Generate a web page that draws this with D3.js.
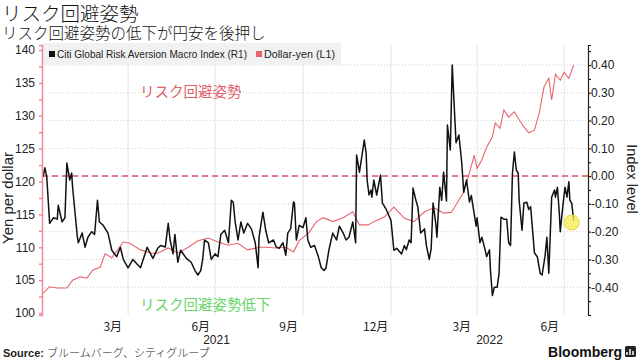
<!DOCTYPE html>
<html><head><meta charset="utf-8">
<script src="https://cdn.jsdelivr.net/npm/d3@7"></script>
<style>body{margin:0;background:#fff}svg{display:block}</style>
</head><body>
<svg id="c" width="640" height="360"></svg>
<script>
// ---- data ----
const yenDates = ["2021-01-02","2021-01-09","2021-01-17","2021-01-27","2021-02-02","2021-02-10","2021-02-17","2021-02-23","2021-03-03","2021-03-08","2021-03-15","2021-03-27","2021-04-03","2021-04-14","2021-04-26","2021-05-02","2021-05-13","2021-05-23","2021-06-03","2021-06-13","2021-06-24","2021-07-04","2021-07-15","2021-07-25","2021-08-04","2021-08-17","2021-08-23","2021-09-03","2021-09-13","2021-09-21","2021-09-27","2021-10-07","2021-10-15","2021-10-22","2021-11-01","2021-11-12","2021-11-22","2021-11-29","2021-12-08","2021-12-14","2021-12-25","2022-01-04","2022-01-15","2022-01-25","2022-02-05","2022-02-15","2022-02-25","2022-03-05","2022-03-11","2022-03-18","2022-03-24","2022-03-29","2022-04-01","2022-04-06","2022-04-11","2022-04-17","2022-04-20","2022-04-25","2022-04-29","2022-05-04","2022-05-10","2022-05-15","2022-05-20","2022-05-25","2022-05-31","2022-06-05","2022-06-10","2022-06-15","2022-06-18","2022-06-22","2022-06-27","2022-07-01","2022-07-06","2022-07-11"];
const yenValues = [103.0,104.0,103.8,103.8,105.0,105.5,105.3,106.5,107.0,109.0,108.4,110.8,110.6,109.6,109.1,109.1,109.9,109.1,110.0,111.0,111.4,110.8,110.3,110.6,109.6,110.0,110.0,109.9,110.0,109.3,111.0,112.2,113.9,114.5,113.9,114.5,115.4,113.4,113.4,113.9,114.6,116.1,114.4,113.9,115.4,116.0,115.2,115.3,116.7,118.4,121.3,124.0,122.0,123.3,125.2,126.8,128.9,128.1,130.9,129.8,130.6,129.4,128.3,127.4,127.8,130.4,134.4,135.7,132.4,136.3,135.4,136.6,135.7,137.7];

const riskDates = ["2021-01-02","2021-01-04","2021-01-06","2021-01-09","2021-01-13","2021-01-17","2021-01-18","2021-01-22","2021-01-25","2021-01-27","2021-01-30","2021-02-01","2021-02-02","2021-02-07","2021-02-08","2021-02-12","2021-02-15","2021-02-18","2021-02-22","2021-02-25","2021-02-28","2021-03-02","2021-03-06","2021-03-11","2021-03-15","2021-03-20","2021-03-24","2021-03-27","2021-04-01","2021-04-06","2021-04-14","2021-04-21","2021-04-26","2021-04-27","2021-05-02","2021-05-05","2021-05-10","2021-05-13","2021-05-15","2021-05-18","2021-05-20","2021-05-23","2021-05-26","2021-06-01","2021-06-06","2021-06-10","2021-06-13","2021-06-16","2021-06-18","2021-06-20","2021-06-24","2021-06-27","2021-07-01","2021-07-04","2021-07-07","2021-07-11","2021-07-15","2021-07-18","2021-07-20","2021-07-22","2021-07-25","2021-07-28","2021-07-31","2021-08-04","2021-08-08","2021-08-12","2021-08-15","2021-08-16","2021-08-20","2021-08-23","2021-08-26","2021-08-31","2021-09-03","2021-09-06","2021-09-10","2021-09-13","2021-09-15","2021-09-18","2021-09-21","2021-09-22","2021-09-24","2021-09-27","2021-10-01","2021-10-04","2021-10-06","2021-10-09","2021-10-13","2021-10-17","2021-10-20","2021-10-23","2021-10-25","2021-10-28","2021-11-01","2021-11-05","2021-11-08","2021-11-12","2021-11-15","2021-11-18","2021-11-22","2021-11-25","2021-11-26","2021-11-29","2021-12-02","2021-12-04","2021-12-06","2021-12-07","2021-12-09","2021-12-11","2021-12-12","2021-12-14","2021-12-17","2021-12-21","2021-12-23","2021-12-27","2022-01-01","2022-01-04","2022-01-07","2022-01-12","2022-01-15","2022-01-17","2022-01-20","2022-01-22","2022-01-24","2022-01-27","2022-01-29","2022-02-01","2022-02-05","2022-02-07","2022-02-10","2022-02-12","2022-02-14","2022-02-17","2022-02-18","2022-02-21","2022-02-23","2022-02-25","2022-02-28","2022-03-01","2022-03-04","2022-03-06","2022-03-10","2022-03-13","2022-03-16","2022-03-18","2022-03-21","2022-03-24","2022-03-26","2022-03-31","2022-04-01","2022-04-04","2022-04-06","2022-04-09","2022-04-11","2022-04-14","2022-04-15","2022-04-17","2022-04-19","2022-04-22","2022-04-24","2022-04-26","2022-04-29","2022-05-02","2022-05-04","2022-05-06","2022-05-08","2022-05-10","2022-05-12","2022-05-14","2022-05-15","2022-05-18","2022-05-20","2022-05-23","2022-05-25","2022-05-27","2022-05-31","2022-06-03","2022-06-06","2022-06-08","2022-06-11","2022-06-13","2022-06-15","2022-06-18","2022-06-21","2022-06-22","2022-06-24","2022-06-26","2022-06-27","2022-06-30","2022-07-02","2022-07-04","2022-07-06","2022-07-07","2022-07-09","2022-07-11"];
const riskValues = [-0.004,0.03,-0.004,-0.17,-0.15,-0.155,-0.105,-0.165,-0.15,0.047,-0.014,0.011,-0.04,-0.22,-0.24,-0.205,-0.256,-0.22,-0.2,-0.21,-0.087,-0.165,-0.177,-0.205,-0.267,-0.29,-0.256,-0.30,-0.33,-0.30,-0.33,-0.256,-0.29,-0.296,-0.26,-0.25,-0.255,-0.17,-0.23,-0.28,-0.21,-0.31,-0.267,-0.296,-0.31,-0.34,-0.356,-0.34,-0.30,-0.23,-0.24,-0.30,-0.28,-0.29,-0.21,-0.195,-0.24,-0.087,-0.094,-0.165,-0.23,-0.165,-0.205,-0.17,-0.19,-0.24,-0.33,-0.22,-0.13,-0.195,-0.24,-0.23,-0.255,-0.26,-0.24,-0.285,-0.205,-0.19,-0.093,-0.097,-0.23,-0.177,-0.185,-0.15,-0.23,-0.256,-0.25,-0.29,-0.33,-0.34,-0.33,-0.267,-0.205,-0.23,-0.18,-0.205,-0.23,-0.22,-0.165,-0.24,0.076,0.014,0.083,0.13,0.083,-0.014,-0.068,-0.05,-0.076,-0.014,-0.068,0.004,-0.097,-0.12,-0.16,-0.267,-0.26,-0.28,-0.25,-0.265,-0.23,-0.24,-0.043,-0.087,-0.11,-0.205,-0.19,-0.25,-0.30,-0.26,-0.097,-0.177,-0.22,-0.04,-0.087,0.014,-0.09,0.184,0.094,0.40,0.12,0.148,0.047,-0.058,-0.014,-0.093,-0.07,-0.18,-0.15,-0.24,-0.22,-0.26,-0.29,-0.265,-0.34,-0.43,-0.40,-0.40,-0.35,-0.148,-0.155,-0.155,-0.24,-0.25,0.011,0.087,0.022,0.011,-0.087,-0.195,-0.097,-0.094,-0.12,-0.11,-0.277,-0.29,-0.35,-0.356,-0.29,-0.22,-0.35,-0.076,-0.05,-0.076,-0.04,-0.133,-0.2,-0.097,-0.04,-0.076,-0.02,-0.087,-0.097,-0.16];

const leftTicks = [100,105,110,115,120,125,130,135,140];
const rightTicks = [-0.4,-0.3,-0.2,-0.1,0,0.1,0.2,0.3,0.4];
const monthLabelDates = ["2021-03-16","2021-06-16","2021-09-16","2021-12-16","2022-03-16","2022-06-16"];
const monthLabels = ["3月","6月","9月","12月","3月","6月"];
const gridDates = ["2021-04-01","2021-07-01","2021-10-01","2022-01-01","2022-04-01","2022-07-01"];
const yearLabels = ["2021","2022"];
const yearSpans = [["2021-01-01","2022-01-01"],["2022-01-01","2022-07-26"]];
const seriesNames = ["Citi Global Risk Aversion Macro Index (R1)","Dollar-yen (L1)"];

// ---- layout ----
const L=42, R=588, T=45, B=315;
const svg = d3.select("#c");
const parse = d3.utcParse("%Y-%m-%d");
const jp = "'Noto Sans CJK JP', sans-serif";
const lat = "'Liberation Sans', Arial, sans-serif";
const RED="#e8646c", AXRED="#f08a94";

const x = d3.scaleUtc().domain([parse("2021-01-01"), parse("2022-07-26")]).range([L,R]);
const yL = d3.scaleLinear().domain([99.7,140.76]).range([B,T]);
const yR = d3.scaleLinear().domain([-0.5,0.472]).range([B,T]);

// grid
svg.append("g").selectAll("line").data(gridDates).join("line")
  .attr("x1",d=>x(parse(d))).attr("x2",d=>x(parse(d))).attr("y1",T).attr("y2",B)
  .attr("stroke","#e4e4e4").attr("stroke-width",1);
svg.append("g").selectAll("line").data(rightTicks).join("line")
  .attr("x1",L).attr("x2",R).attr("y1",d=>yR(d)).attr("y2",d=>yR(d))
  .attr("stroke","#cfcfcf").attr("stroke-dasharray","1,2").attr("stroke-width",1);

// legend box
svg.append("rect").attr("x",L+1).attr("y",T-2).attr("width",298).attr("height",22).attr("fill","#f1f1f1");
const lg = svg.append("g").attr("font-family",lat).attr("font-size",11).attr("fill","#222");
lg.append("rect").attr("x",49).attr("y",51).attr("width",6).attr("height",6).attr("fill","#111");
lg.append("text").attr("x",57).attr("y",58).text(seriesNames[0]).attr("textLength",190).attr("lengthAdjust","spacingAndGlyphs");
lg.append("rect").attr("x",256).attr("y",51).attr("width",6).attr("height",6).attr("fill",RED);
lg.append("text").attr("x",264).attr("y",58).text(seriesNames[1]).attr("textLength",71).attr("lengthAdjust","spacingAndGlyphs");

// zero dashed line
svg.append("line").attr("x1",L).attr("x2",R).attr("y1",yR(0)).attr("y2",yR(0))
  .attr("stroke","#d9546a").attr("stroke-width",1.5).attr("stroke-dasharray","6,4");

// series
const yenData = yenDates.map((d,i)=>({d:parse(d),v:yenValues[i]}));
const riskData = riskDates.map((d,i)=>({d:parse(d),v:riskValues[i]}));
svg.append("path").datum(yenData)
  .attr("d",d3.line().x(p=>x(p.d)).y(p=>yL(p.v)))
  .attr("fill","none").attr("stroke",RED).attr("stroke-width",1.1);
svg.append("path").datum(riskData)
  .attr("d",d3.line().x(p=>x(p.d)).y(p=>yR(p.v)))
  .attr("fill","none").attr("stroke","#111").attr("stroke-width",1.5).attr("stroke-linejoin","round");

// highlight last point
const last = riskData[riskData.length-1];
svg.append("circle").attr("cx",x(last.d)-2).attr("cy",yR(last.v)+2).attr("r",7.5)
  .attr("fill","#f7ec4a").attr("fill-opacity",0.75).attr("stroke","#e6d63a").attr("stroke-width",1);

// left axis
const la = svg.append("g").attr("transform",`translate(${L},0)`)
  .call(d3.axisLeft(yL).tickValues(d3.range(100,140.1,2.5)).tickSize(3)
    .tickFormat(d=>leftTicks.includes(d)?d:""));
la.select(".domain").attr("stroke",AXRED).attr("stroke-width",1.5);
la.selectAll(".tick line").attr("stroke",AXRED).attr("stroke-width",1.5);
la.selectAll("text").attr("font-family",lat).attr("font-size",12).attr("fill","#222").attr("dx",-1);

// right axis
const fmt = d3.format(".2f");
const ra = svg.append("g").attr("transform",`translate(${R},0)`)
  .call(d3.axisRight(yR).tickValues(d3.range(-10,10).map(k=>k*0.05)).tickSize(3)
    .tickFormat(d=>rightTicks.some(t=>Math.abs(t-d)<1e-9)?fmt(d).replace("\u2212","-"):""));
ra.select(".domain").attr("stroke","#222").attr("stroke-width",1.2);
ra.selectAll(".tick line").attr("stroke","#222").attr("stroke-width",1.2);
ra.selectAll("text").attr("font-family",lat).attr("font-size",12).attr("fill","#222").attr("dx",-3);

// x labels
svg.append("g").selectAll("text").data(monthLabelDates).join("text")
  .attr("x",d=>x(parse(d))).attr("y",331).attr("text-anchor","middle")
  .attr("font-family",jp).attr("font-size",12).attr("fill","#222").text((d,i)=>monthLabels[i]);
svg.append("g").selectAll("text").data(yearSpans).join("text")
  .attr("x",d=>(x(parse(d[0]))+x(parse(d[1])))/2).attr("y",344).attr("text-anchor","middle")
  .attr("font-family",lat).attr("font-size",12).attr("fill","#222").text((d,i)=>yearLabels[i]);

// axis titles
svg.append("text").attr("transform","translate(13,198) rotate(-90)").attr("text-anchor","middle")
  .attr("font-family",lat).attr("font-size",15).attr("fill","#222").text("Yen per dollar");
svg.append("text").attr("transform","translate(627,179) rotate(90)").attr("text-anchor","middle")
  .attr("font-family",lat).attr("font-size",14.5).attr("fill","#222").text("Index level");

// annotations
svg.append("text").attr("x",140).attr("y",97).attr("font-family",jp).attr("font-size",14.5)
  .attr("fill","#e0606c").text("リスク回避姿勢");
svg.append("text").attr("x",140).attr("y",310).attr("font-family",jp).attr("font-size",14.5)
  .attr("fill","#66d466").text("リスク回避姿勢低下");

// titles
svg.append("text").attr("x",2).attr("y",20.5).attr("font-family",jp).attr("font-size",19.5).attr("font-weight",300)
  .attr("fill","#111").text("リスク回避姿勢");
svg.append("text").attr("x",2).attr("y",39).attr("font-family",jp).attr("font-size",15.5).attr("font-weight",300)
  .attr("fill","#111").text("リスク回避姿勢の低下が円安を後押し");

// footer
const ft = svg.append("text").attr("x",3).attr("y",357).attr("font-size",11).attr("fill","#222");
ft.append("tspan").attr("font-family",lat).attr("font-weight","bold").text("Source: ");
ft.append("tspan").attr("font-family",jp).attr("font-weight",300).text("ブルームバーグ、シティグループ");
svg.append("text").attr("x",622).attr("y",357).attr("text-anchor","end").attr("font-family",lat)
  .attr("font-weight","bold").attr("font-size",14).attr("fill","#111").text("Bloomberg");
svg.append("rect").attr("x",625).attr("y",346).attr("width",11).attr("height",11).attr("rx",1.5).attr("fill","#222");
svg.append("path").attr("d","M627,355 L627,352 M630,355 L630,349 M633,355 L633,351").attr("stroke","#fff").attr("stroke-width",1.5);
</script>
</body></html>
